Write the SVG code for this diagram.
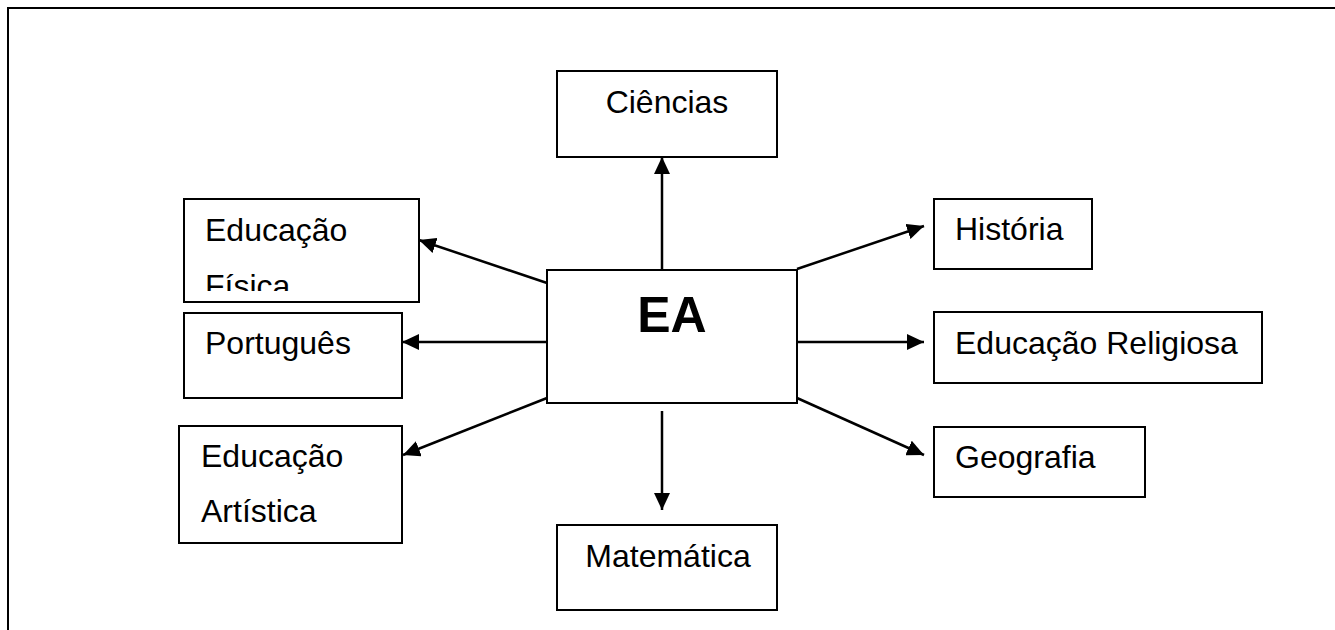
<svg xmlns="http://www.w3.org/2000/svg" width="1335" height="630" viewBox="0 0 1335 630">
<style>
.box{fill:#fff;stroke:#000;stroke-width:2}
.t{font-family:"Liberation Sans",Arial,sans-serif;font-size:32px;fill:#000}
.c{text-anchor:middle}
.ea{font-family:"Liberation Sans",Arial,sans-serif;font-size:50px;font-weight:bold;fill:#000;text-anchor:middle}
.e{stroke:#000;stroke-width:2.5;fill:none;marker-end:url(#ah)}
</style>
<defs>
<marker id="ah" markerUnits="userSpaceOnUse" markerWidth="18" markerHeight="16" refX="17" refY="8" orient="auto">
<path d="M0,0 L17,8 L0,16 z" fill="#000"/>
</marker>
<clipPath id="cf"><rect x="184" y="199" width="235" height="92"/></clipPath>
</defs>
<rect width="1335" height="630" fill="#fff"/>
<g id="frame"><path d="M8,630 V8 H1335" fill="none" stroke="#000" stroke-width="2"/></g>
<g id="connectors">
<line class="e" x1="662" y1="270" x2="662" y2="157"/>
<line class="e" x1="662" y1="411" x2="662" y2="510"/>
<line class="e" x1="547" y1="283" x2="419" y2="240"/>
<line class="e" x1="547" y1="342" x2="402" y2="342"/>
<line class="e" x1="547" y1="398" x2="403" y2="455"/>
<line class="e" x1="797" y1="269" x2="924" y2="226"/>
<line class="e" x1="797" y1="342" x2="924" y2="342"/>
<line class="e" x1="797" y1="398" x2="924" y2="455"/>
</g>
<g id="ea"><rect class="box" x="547" y="270" width="250" height="133"/><text class="ea" x="672" y="332">EA</text></g>
<g id="ciencias"><rect class="box" x="557" y="71" width="220" height="86"/><text class="t c" x="667" y="113">Ciências</text></g>
<g id="matematica"><rect class="box" x="557" y="525" width="220" height="85"/><text class="t c" x="668" y="567">Matemática</text></g>
<g id="edfisica"><rect class="box" x="184" y="199" width="235" height="103"/><g clip-path="url(#cf)"><text class="t" x="205" y="241">Educação</text><text class="t" x="205" y="297">Física</text></g></g>
<g id="portugues"><rect class="box" x="184" y="313" width="218" height="85"/><text class="t" x="205" y="354">Português</text></g>
<g id="edartistica"><rect class="box" x="179" y="426" width="223" height="117"/><text class="t" x="201" y="467">Educação</text><text class="t" x="201" y="522">Artística</text></g>
<g id="historia"><rect class="box" x="934" y="199" width="158" height="70"/><text class="t" x="955" y="240">História</text></g>
<g id="edreligiosa"><rect class="box" x="934" y="312" width="328" height="71"/><text class="t" x="955" y="354">Educação Religiosa</text></g>
<g id="geografia"><rect class="box" x="934" y="427" width="211" height="70"/><text class="t" x="955" y="468">Geografia</text></g>
</svg>
